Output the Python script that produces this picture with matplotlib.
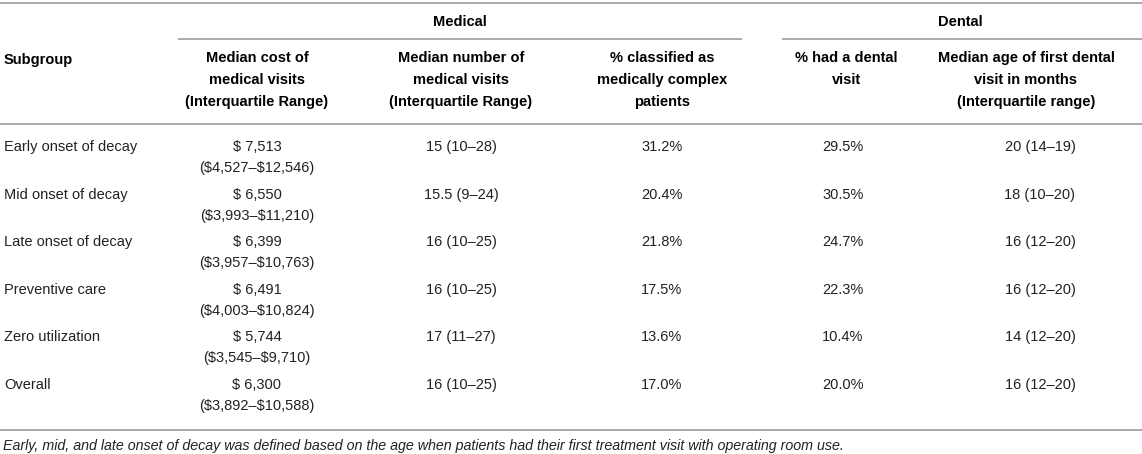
import matplotlib
matplotlib.use("Agg")
import matplotlib.pyplot as plt

plt.rcParams['font.family'] = ['Liberation Sans', 'DejaVu Sans']

# table content
subgroups = ["Early onset of decay", "Mid onset of decay", "Late onset of decay",
             "Preventive care", "Zero utilization", "Overall"]
cost_median = ["$ 7,513", "$ 6,550", "$ 6,399", "$ 6,491", "$ 5,744", "$ 6,300"]
cost_iqr = ["($4,527–$12,546)", "($3,993–$11,210)", "($3,957–$10,763)",
            "($4,003–$10,824)", "($3,545–$9,710)", "($3,892–$10,588)"]
visits = ["15 (10–28)", "15.5 (9–24)", "16 (10–25)", "16 (10–25)", "17 (11–27)", "16 (10–25)"]
complex_pct = ["31.2%", "20.4%", "21.8%", "17.5%", "13.6%", "17.0%"]
dental_pct = ["29.5%", "30.5%", "24.7%", "22.3%", "10.4%", "20.0%"]
first_age = ["20 (14–19)", "18 (10–20)", "16 (12–20)", "16 (12–20)", "14 (12–20)", "16 (12–20)"]

col_headers = [
    ["Median cost of", "medical visits", "(Interquartile Range)"],
    ["Median number of", "medical visits", "(Interquartile Range)"],
    ["% classified as", "medically complex", "patients"],
    ["% had a dental", "visit"],
    ["Median age of first dental", "visit in months", "(Interquartile range)"],
]
footnote = ("Early, mid, and late onset of decay was defined based on the age when "
            "patients had their first treatment visit with operating room use.")

W, H = 1142, 454
fig = plt.figure(figsize=(W / 100, H / 100), dpi=100)
ax = fig.add_axes([0, 0, 1, 1])
ax.set_xlim(0, W)
ax.set_ylim(H, 0)
ax.axis("off")

fs = 10.5
body_color = "#222222"
rule_color = "#aaaaaa"

def put(x, y, s, **kw):
    kw.setdefault("ha", "center")
    kw.setdefault("va", "center")
    kw.setdefault("fontsize", fs)
    ax.text(x, y, s, parse_math=False, **kw)

# rules
ax.hlines(3, 0, W, color=rule_color, lw=1.4)
ax.hlines(39, 178, 742, color=rule_color, lw=1.4)
ax.hlines(39, 782, W, color=rule_color, lw=1.4)
ax.hlines(124, 0, W, color=rule_color, lw=1.4)
ax.hlines(430, 0, W, color=rule_color, lw=1.4)

# group headers
put(460, 22, "Medical", fontweight="bold")
put(960, 22, "Dental", fontweight="bold")

# column headers
put(4, 60, "Subgroup", ha="left", fontweight="bold")
head_x = [257, 461, 662, 846, 1026]
for hx, lines in zip(head_x, col_headers):
    for k, line in enumerate(lines):
        put(hx, 58 + 22 * k, line, fontweight="bold")

# body rows
data_x = [257, 461, 662, 843, 1040]
row_y0 = 147
row_step = 47.6
for i in range(len(subgroups)):
    y = row_y0 + i * row_step
    put(4, y, subgroups[i], ha="left", color=body_color)
    put(data_x[0], y, cost_median[i], color=body_color)
    put(data_x[0], y + 21, cost_iqr[i], color=body_color)
    put(data_x[1], y, visits[i], color=body_color)
    put(data_x[2], y, complex_pct[i], color=body_color)
    put(data_x[3], y, dental_pct[i], color=body_color)
    put(data_x[4], y, first_age[i], color=body_color)

put(3, 446, footnote, ha="left", fontsize=fs * 0.975, style="italic", color=body_color)

fig.savefig("out.png", dpi=100)
